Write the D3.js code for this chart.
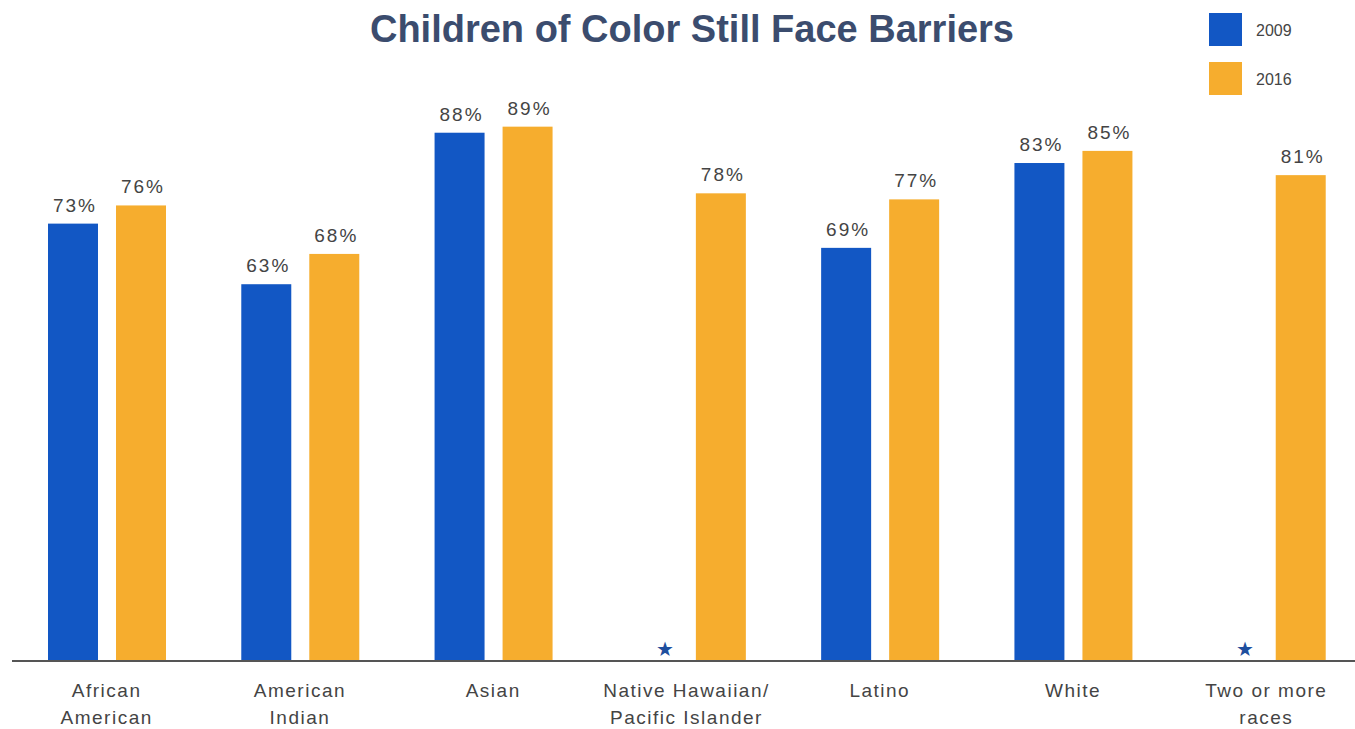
<!DOCTYPE html>
<html><head><meta charset="utf-8">
<script src="https://cdn.jsdelivr.net/npm/d3@7/dist/d3.min.js"></script>
<style>
html,body{margin:0;padding:0;background:#fff;}
svg{display:block;font-family:"Liberation Sans",Arial,Helvetica,sans-serif;}
</style></head>
<body><svg id="c" width="1355" height="729"></svg>
<script>
const categories = [["African","American"],["American","Indian"],["Asian"],["Native Hawaiian/","Pacific Islander"],["Latino"],["White"],["Two or more","races"]];
const seriesNames = ["2009","2016"];
const values2009 = [73,63,88,null,69,83,null];
const values2016 = [76,68,89,78,77,85,81];
const colors = ["#1257c4","#f6ad2e"];
const title = "Children of Color Still Face Barriers";

const svg = d3.select("#c");
const catKeys = categories.map(c=>c.join(" "));
const x0 = d3.scaleBand().domain(catKeys).range([10,1363]).padding(0);
const x1 = d3.scaleBand().domain(seriesNames).range([38,156]).paddingInner(0.265).paddingOuter(0);
const y = d3.scaleLinear().domain([0,100]).range([666,60]);
const baseY = 660;
const seriesVals = [values2009, values2016];

// title
svg.append("text").attr("x",692).attr("y",42).attr("text-anchor","middle")
  .attr("font-size",38).attr("font-weight","bold").attr("fill","#3b4c6e")
  .text(title);

// bars
const g = svg.append("g");
catKeys.forEach((k,i)=>{
  const gx = x0(k);
  seriesNames.forEach((s,j)=>{
    const v = seriesVals[j][i];
    const bx = gx + x1(s);
    if(v==null){
      g.append("text").attr("x",bx+x1.bandwidth()/2+12).attr("y",656)
        .attr("text-anchor","middle").attr("font-size",20).attr("fill","#1f4f9e").text("★");
      return;
    }
    g.append("rect").attr("x",bx).attr("y",y(v)).attr("width",x1.bandwidth())
      .attr("height",baseY-y(v)).attr("fill",colors[j]);
    g.append("text").attr("x",bx+x1.bandwidth()/2+2).attr("y",y(v)-12)
      .attr("text-anchor","middle").attr("font-size",19).attr("letter-spacing","2px")
      .attr("fill","#444").text(v+"%");
  });
  // category labels
  const t = g.append("text").attr("text-anchor","middle").attr("font-size",19)
    .attr("letter-spacing","1.5px").attr("fill","#444");
  categories[i].forEach((line,li)=>{
    t.append("tspan").attr("x",gx+x0.bandwidth()/2).attr("y",697+li*27).text(line);
  });
});

// axis line
svg.append("line").attr("x1",12).attr("x2",1355).attr("y1",baseY+1).attr("y2",baseY+1)
  .attr("stroke","#555").attr("stroke-width",2);

// legend
seriesNames.forEach((s,j)=>{
  svg.append("rect").attr("x",1209).attr("y",13+j*49).attr("width",33).attr("height",33).attr("fill",colors[j]);
  svg.append("text").attr("x",1256).attr("y",36+j*49).attr("font-size",16).attr("fill","#444").text(s);
});
</script></body></html>
